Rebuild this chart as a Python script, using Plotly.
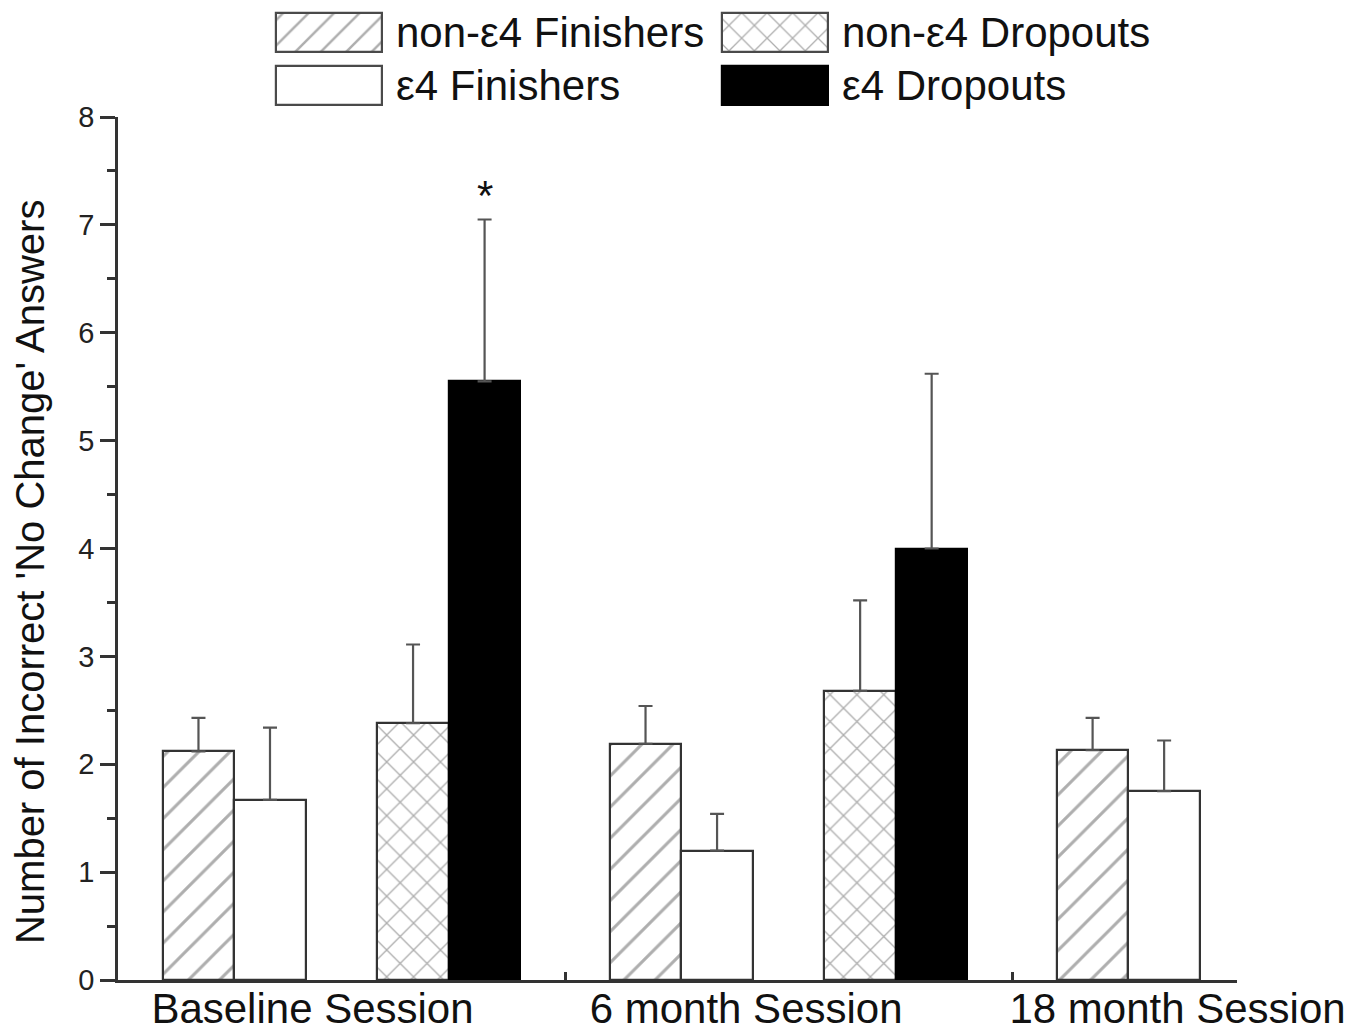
import plotly.graph_objects as go

# Sessions and group series
sessions = ["Baseline Session", "6 month Session", "18 month Session"]
series_names = ["non-ε4 Finishers", "ε4 Finishers", "non-ε4 Dropouts", "ε4 Dropouts"]

# Mean number of incorrect 'no change' answers and upper SEM per session
non_e4_finishers = [2.12, 2.19, 2.13]
non_e4_finishers_sem = [0.31, 0.35, 0.30]
e4_finishers = [1.67, 1.20, 1.75]
e4_finishers_sem = [0.67, 0.34, 0.47]
non_e4_dropouts = [2.38, 2.68, None]
non_e4_dropouts_sem = [0.73, 0.84, None]
e4_dropouts = [5.55, 4.00, None]
e4_dropouts_sem = [1.50, 1.62, None]

y_ticks = [0, 1, 2, 3, 4, 5, 6, 7, 8]
significant = [("ε4 Dropouts", 0)]  # (series, session index) marked with *
y_title = "Number of Incorrect 'No Change' Answers"

FONT = "Arial, Liberation Sans, sans-serif"
TXT = "#111111"
EDGE = "#333333"
HATCH = "#5e5e5e"

values = [non_e4_finishers, e4_finishers, non_e4_dropouts, e4_dropouts]
sems = [non_e4_finishers_sem, e4_finishers_sem, non_e4_dropouts_sem, e4_dropouts_sem]

# each session spans one x unit: five slots, middle slot left empty
SLOT_W = 0.16
SLOT_START = 0.10
slots = [0, 1, 3, 4]
styles = [
    dict(color="white", pattern=dict(shape="/", size=22, solidity=0.14, fgcolor=HATCH, bgcolor="white")),
    dict(color="white"),
    dict(color="white", pattern=dict(shape="x", size=19, solidity=0.14, fgcolor=HATCH, bgcolor="white")),
    dict(color="black"),
]


def slot_center(group, slot):
    return group + SLOT_START + SLOT_W * (slot + 0.5)


fig = go.Figure()

for name, vals, errs, slot, st in zip(series_names, values, sems, slots, styles):
    xs, ys, es = [], [], []
    for g, (v, e) in enumerate(zip(vals, errs)):
        if v is None:
            continue
        xs.append(slot_center(g, slot))
        ys.append(v)
        es.append(e)
    marker = dict(color=st["color"], line=dict(color=EDGE if st["color"] == "white" else "black", width=2.2))
    if "pattern" in st:
        marker["pattern"] = st["pattern"]
    fig.add_trace(go.Bar(
        x=xs, y=ys, width=SLOT_W, name=name, marker=marker, showlegend=False,
        error_y=dict(type="data", array=es, arrayminus=[0] * len(es), symmetric=False,
                     color="#555555", thickness=2.2, width=7),
        xaxis="x", yaxis="y",
    ))

# significance marker
for sname, g in significant:
    i = series_names.index(sname)
    fig.add_annotation(
        x=slot_center(g, slots[i]), y=values[i][g] + sems[i][g],
        xref="x", yref="y", text="*", showarrow=False,
        yanchor="middle", yshift=24, font=dict(family=FONT, size=42, color=TXT),
    )

# custom legend: large swatches laid out in a 2x2 grid
legend_pos = {
    "non-ε4 Finishers": (0, 0),
    "non-ε4 Dropouts": (1, 0),
    "ε4 Finishers": (0, 1),
    "ε4 Dropouts": (1, 1),
}
SW_W, SW_H = 0.239, 0.736
for name, st in zip(series_names, styles):
    col, row = legend_pos[name]
    marker = dict(color=st["color"], line=dict(color="#4a4a4a" if st["color"] == "white" else "black", width=2.2))
    if "pattern" in st:
        p = dict(st["pattern"])
        p["size"] = 18
        marker["pattern"] = p
    fig.add_trace(go.Bar(
        x=[col], y=[SW_H], base=[row - SW_H / 2], width=SW_W, marker=marker,
        showlegend=False, hoverinfo="skip", xaxis="x2", yaxis="y2",
    ))
    fig.add_annotation(
        x=col + 0.146, y=row, xref="x2", yref="y2", text=name, showarrow=False,
        xanchor="left", yanchor="middle", font=dict(family=FONT, size=42, color=TXT),
    )

# y-axis title, set slightly below the centre of the axis
fig.add_annotation(
    x=-0.0786, y=0.4163, xref="paper", yref="paper", text=y_title, showarrow=False,
    textangle=-90, xanchor="center", yanchor="middle",
    font=dict(family=FONT, size=40, color=TXT),
)

PLOT_H = 980
TOP = 117
fig.update_layout(
    width=1371, height=1032,
    margin=dict(l=118, r=134, t=0, b=52, autoexpand=False),
    paper_bgcolor="white", plot_bgcolor="white",
    bargap=0, barmode="overlay",
    font=dict(family=FONT, color=TXT),
    xaxis=dict(
        domain=[0, 1], range=[0, 2.503], showgrid=False, zeroline=False, automargin=False,
        showline=True, linecolor=EDGE, linewidth=2.5,
        tickmode="array", tickvals=[0.435, 1.405, 2.37], ticktext=sessions,
        ticks="", tickfont=dict(family=FONT, size=42, color=TXT), ticklabelstandoff=-10,
        minor=dict(tickmode="array", tickvals=[1, 2], ticks="inside", ticklen=8,
                   tickwidth=2.5, tickcolor=EDGE),
        fixedrange=True,
    ),
    yaxis=dict(
        domain=[0, (PLOT_H - TOP) / PLOT_H], range=[0, 8], showgrid=False, zeroline=False,
        automargin=False,
        showline=True, linecolor=EDGE, linewidth=2.5,
        tickmode="array", tickvals=y_ticks, ticks="outside", ticklen=15, tickwidth=2.5,
        tickcolor=EDGE, tickfont=dict(family=FONT, size=29, color="#222222"),
        minor=dict(dtick=0.5, ticks="outside", ticklen=8, tickwidth=2.5, tickcolor=EDGE),
        fixedrange=True,
    ),
    xaxis2=dict(domain=[0, 1], range=[-0.473, 2.036], visible=False, anchor="y2", fixedrange=True),
    yaxis2=dict(domain=[(PLOT_H - 110) / PLOT_H, 1], range=[1.462, -0.613], visible=False,
                anchor="x2", fixedrange=True),
)

fig.write_html("out.html")
